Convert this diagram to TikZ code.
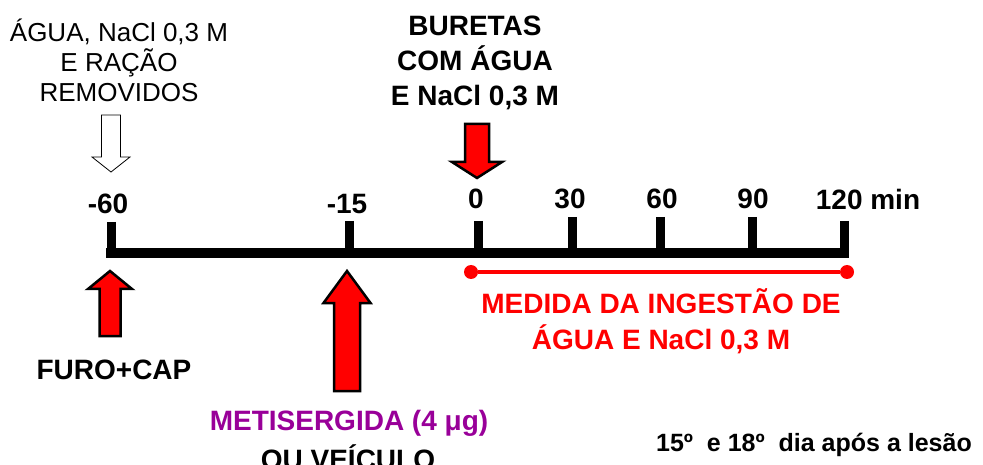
\documentclass[tikz,border=0pt]{standalone}
\usepackage{fontspec}
\setmainfont{Liberation Sans}
\definecolor{roxo}{RGB}{153,0,153}

\begin{document}
\begin{tikzpicture}[x=1pt, y=-1pt]
  \useasboundingbox (0,0) rectangle (983,465);

  % Estilos.
  \tikzstyle{rotulo}=[inner sep=0pt, font=\fontsize{28}{34}\selectfont\bfseries]
  \tikzstyle{marca}=[line width=9pt]
  \tikzstyle{eixo}=[line width=10pt]
  \tikzstyle{ponto}=[circle, fill=red, minimum width=14pt, inner sep=0pt]
  \tikzstyle{setabranca}=[draw=black, fill=white, line width=0.8pt, line join=miter]
  \tikzstyle{setavermelha}=[draw=black, fill=red, line width=2.5pt, line join=miter]

  % Eixo do tempo.
  \coordinate (ini) at (106,253);
  \coordinate (fim) at (849,253);
  \draw[eixo] (ini) -- (fim);
  \draw[marca] (111,222) -- (111,258);
  \draw[marca] (349,221) -- (349,258);
  \draw[marca] (478,221) -- (478,258);
  \draw[marca] (572,217) -- (572,258);
  \draw[marca] (660,217) -- (660,258);
  \draw[marca] (752,217) -- (752,258);
  \draw[marca] (844,221) -- (844,258);

  % Tempos.
  \node[rotulo] (t60) at (108,204) {-60};
  \node[rotulo] (t15) at (347,204) {-15};
  \node[rotulo] (t0) at (476,199) {0};
  \node[rotulo] (t30) at (570,199) {30};
  \node[rotulo] (t60b) at (662,199) {60};
  \node[rotulo] (t90) at (753,199) {90};
  \node[rotulo] (t120) at (868,199) {120 min};

  % Medida.
  \node[ponto] (p0) at (471,272) {};
  \node[ponto] (p120) at (847,272) {};
  \draw[red, line width=4.5pt] (p0) -- (p120);
  \node[rotulo, red, align=center, font=\fontsize{28}{36}\selectfont\bfseries] (medida) at (661,321)
    {MEDIDA DA INGESTÃO DE\\ÁGUA E NaCl 0,3 M};

  % Setas.
  \draw[setabranca] (101.5,115) -- (120.5,115) -- (120.5,157) -- (130,157)
    -- (111,172) -- (92,157) -- (101.5,157) -- cycle;
  \draw[setavermelha] (465,124) -- (489,124) -- (489,162) -- (502,162)
    -- (477,178) -- (452,162) -- (465,162) -- cycle;
  \draw[setavermelha] (110,271) -- (132,289) -- (120.5,289) -- (120.5,336)
    -- (99.5,336) -- (99.5,289) -- (88,289) -- cycle;
  \draw[setavermelha] (347,271) -- (370.5,303) -- (360,303) -- (360,391)
    -- (334,391) -- (334,303) -- (323.5,303) -- cycle;

  % Textos.
  \node[align=center, inner sep=0pt, font=\fontsize{26}{30}\selectfont] (removidos) at (119,60)
    {ÁGUA, NaCl 0,3 M\\E RAÇÃO\\REMOVIDOS};
  \node[rotulo, align=center, font=\fontsize{28}{35}\selectfont\bfseries] (buretas) at (475,63)
    {BURETAS\\COM ÁGUA\\E NaCl 0,3 M};
  \node[rotulo] (furo) at (114,370) {FURO+CAP};
  \node[rotulo, roxo] (meti) at (349,423) {METISERGIDA (4 μg)};
  \node[rotulo] (veiculo) at (348,457) {OU VEÍCULO};
  \node[rotulo, font=\fontsize{25}{28}\selectfont\bfseries] (dia) at (814,445)
    {15º\ \ e 18º\ \ dia após a lesão};
\end{tikzpicture}
\end{document}
